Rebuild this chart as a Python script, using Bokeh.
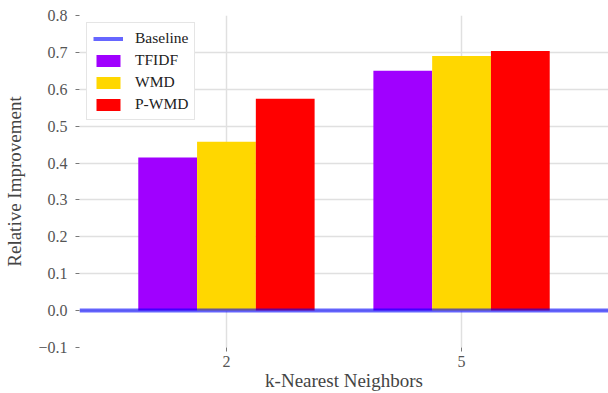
from bokeh.plotting import figure
from bokeh.models import (Range1d, FixedTicker, ColumnDataSource, Legend, LegendItem)
from bokeh.transform import dodge
from bokeh.embed import file_html
from bokeh.resources import INLINE

# ---- data ----
categories = ["2", "5"]
tfidf = [0.415, 0.650]
wmd = [0.458, 0.690]
pwmd = [0.574, 0.704]
baseline = [0.0]
yticks = [-0.1, 0.0, 0.1, 0.2, 0.3, 0.4, 0.5, 0.6, 0.7, 0.8]

FONT = "Liberation Serif"
colors = {"TFIDF": "#a000ff", "WMD": "#ffd700", "P-WMD": "#ff0000"}

xidx = list(range(len(categories)))
src = ColumnDataSource(dict(x=xidx, tfidf=tfidf, wmd=wmd, pwmd=pwmd))

p = figure(width=608, height=393, output_backend="svg", toolbar_location=None,
           x_range=Range1d(-0.625, len(categories) - 0.375),
           y_range=Range1d(yticks[0], yticks[-1]))
p.min_border_left = 79
p.min_border_right = 0
p.min_border_top = 15
p.min_border_bottom = 45
p.outline_line_color = None
p.background_fill_color = "white"
p.border_fill_color = "white"

w = 0.25
r1 = p.vbar(x=dodge("x", -w, range=p.x_range), top="tfidf", width=w, bottom=0,
            source=src, fill_color=colors["TFIDF"], line_color=None)
r2 = p.vbar(x=dodge("x", 0, range=p.x_range), top="wmd", width=w, bottom=0,
            source=src, fill_color=colors["WMD"], line_color=None)
r3 = p.vbar(x=dodge("x", w, range=p.x_range), top="pwmd", width=w, bottom=0,
            source=src, fill_color=colors["P-WMD"], line_color=None)
r0 = p.hspan(y=baseline, line_color="blue", line_alpha=0.6, line_width=4)

legend = Legend(items=[LegendItem(label="Baseline", renderers=[r0]),
                       LegendItem(label="TFIDF", renderers=[r1]),
                       LegendItem(label="WMD", renderers=[r2]),
                       LegendItem(label="P-WMD", renderers=[r3])],
                location="top_left")
legend.margin = 7
legend.padding = 6
legend.spacing = 4
legend.glyph_width = 30
legend.glyph_height = 15
legend.label_standoff = 12
legend.label_text_font = FONT
legend.label_text_font_size = "15.5px"
legend.label_text_color = "#222222"
legend.border_line_color = "#cccccc"
legend.border_line_width = 1
legend.background_fill_alpha = 1.0
p.add_layout(legend)

# axes
p.xaxis.ticker = FixedTicker(ticks=xidx)
p.xaxis.major_label_overrides = {i: c for i, c in zip(xidx, categories)}
p.yaxis.ticker = FixedTicker(ticks=yticks)
p.yaxis.major_label_overrides = {t: f"{t:.1f}".replace("-", "\u2212") for t in yticks}

for ax in (p.xaxis[0], p.yaxis[0]):
    ax.axis_line_color = None
    ax.major_tick_line_color = "#777777"
    ax.major_tick_in = 0
    ax.major_tick_out = 4
    ax.minor_tick_line_color = None
    ax.major_label_text_font = FONT
    ax.major_label_text_font_size = "16px"
    ax.major_label_text_color = "#555555"
    ax.axis_label_text_font = FONT
    ax.axis_label_text_font_style = "normal"
    ax.axis_label_text_font_size = "19px"
    ax.axis_label_text_color = "#444444"

p.xaxis.axis_label = "k-Nearest Neighbors"
p.yaxis.axis_label = "Relative Improvement"
p.xaxis.major_label_standoff = 4
p.xaxis.axis_label_standoff = 0
p.yaxis.major_label_standoff = 8
p.yaxis.axis_label_standoff = 10

p.xgrid.ticker = FixedTicker(ticks=xidx)
p.ygrid.ticker = FixedTicker(ticks=yticks)
p.grid.grid_line_color = "#e0e0e0"
p.grid.grid_line_width = 1.5

open("out.html", "w").write(file_html(p, INLINE))
